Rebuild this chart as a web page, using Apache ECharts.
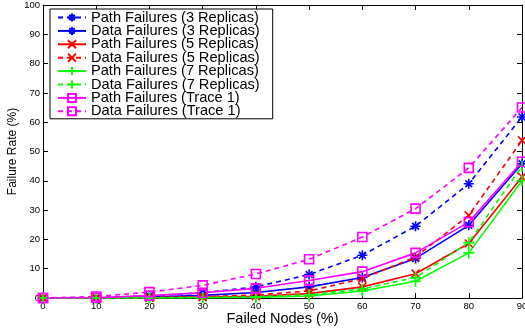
<!DOCTYPE html>
<html>
<head>
<meta charset="utf-8">
<script src="https://cdn.jsdelivr.net/npm/echarts@6/dist/echarts.min.js"></script>
<style>
  html, body { margin: 0; padding: 0; background: #fff; }
  #chart { width: 525px; height: 332px; }
</style>
</head>
<body>
<div id="chart"></div>
<script>
// Failed nodes (%) on the x axis
const failedNodes = [0, 10, 20, 30, 40, 50, 60, 70, 80, 90];

// Failure rates (%) per configuration
const pathRep3  = [0, 0.1, 0.7, 1.8, 3.8, 8.0, 14.6, 24.5, 39.0, 61.8];
const dataRep3  = [0, 0.05, 0.3, 0.9, 1.9, 3.8, 7.0, 13.5, 24.8, 45.8];
const pathRep5  = [0, 0, 0.1, 0.3, 0.6, 1.5, 3.8, 8.3, 18.6, 41.3];
const dataRep5  = [0, 0.02, 0.2, 0.5, 1.0, 2.4, 6.6, 14.0, 28.2, 53.8];
const pathRep7  = [0, 0, 0, 0.1, 0.2, 0.7, 2.4, 5.7, 15.4, 40.0];
const dataRep7  = [0, 0, 0.05, 0.2, 0.4, 1.1, 3.1, 7.0, 18.9, 45.0];
const pathTrace = [0, 0.1, 0.8, 1.8, 3.3, 6.0, 9.0, 15.4, 25.9, 46.5];
const dataTrace = [0, 0.5, 2.0, 4.3, 8.2, 13.2, 20.8, 30.5, 44.4, 65.0];

const seriesNames = [
  'Path Failures (3 Replicas)',
  'Data Failures (3 Replicas)',
  'Path Failures (5 Replicas)',
  'Data Failures (5 Replicas)',
  'Path Failures (7 Replicas)',
  'Data Failures (7 Replicas)',
  'Path Failures (Trace 1)',
  'Data Failures (Trace 1)'
];
const seriesValues = [pathRep3, dataRep3, pathRep5, dataRep5, pathRep7, dataRep7, pathTrace, dataTrace];

// Stroked marker shapes
const STAR   = 'path://M5,0L5,10M0,5L10,5M1.6,1.6L8.4,8.4M8.4,1.6L1.6,8.4';
const CROSS  = 'path://M0,0L10,10M10,0L0,10';
const PLUS   = 'path://M5,0L5,10M0,5L10,5';
const SQUARE = 'path://M0,0L10,0L10,10L0,10Z';

const styles = [
  { color: '#0000ff', dash: true,  symbol: STAR,   size: 10 },
  { color: '#0000ff', dash: false, symbol: STAR,   size: 10 },
  { color: '#ff0000', dash: false, symbol: CROSS,  size: 8 },
  { color: '#ff0000', dash: true,  symbol: CROSS,  size: 8 },
  { color: '#00ff00', dash: false, symbol: PLUS,   size: 11 },
  { color: '#00ff00', dash: true,  symbol: PLUS,   size: 11 },
  { color: '#ff00ff', dash: false, symbol: SQUARE, size: 9 },
  { color: '#ff00ff', dash: true,  symbol: SQUARE, size: 9 }
];

const FONT = "'Liberation Sans', Arial, Helvetica, sans-serif";

const series = seriesNames.map((name, i) => {
  const s = styles[i];
  return {
    name: name,
    type: 'line',
    data: failedNodes.map((x, j) => [x, seriesValues[i][j]]),
    symbol: s.symbol,
    symbolSize: s.size,
    showAllSymbol: true,
    color: s.color,
    lineStyle: { color: s.color, width: 1.6, type: s.dash ? [5, 4] : 'solid' },
    itemStyle: { color: 'rgba(0,0,0,0)', borderColor: s.color, borderWidth: 1.6 },
    emphasis: { disabled: true },
    animation: false
  };
});

const tickStyle = { show: true, inside: true, length: 5, lineStyle: { color: '#000', width: 1 } };
const lineStyleAxis = { show: true, onZero: false, lineStyle: { color: '#000', width: 1 } };

const chart = echarts.init(document.getElementById('chart'));
chart.setOption({
  animation: false,
  backgroundColor: '#fff',
  textStyle: { fontFamily: FONT },
  grid: { left: 43, right: 3, top: 5, bottom: 34, containLabel: false, outerBoundsMode: 'none' },
  legend: {
    data: seriesNames,
    orient: 'vertical',
    left: 50,
    top: 9,
    padding: [1, 13, 0, 7],
    itemWidth: 28,
    itemHeight: 10,
    itemGap: -1.6,
    borderColor: '#000',
    borderWidth: 1,
    backgroundColor: '#fff',
    selectedMode: false,
    textStyle: { fontFamily: FONT, fontSize: 14.6, color: '#000', lineHeight: 13.4 }
  },
  xAxis: [
    {
      type: 'value', min: 0, max: 90, interval: 10, position: 'bottom',
      axisLine: lineStyleAxis, axisTick: tickStyle, splitLine: { show: false },
      axisLabel: { fontFamily: FONT, fontSize: 9.5, color: '#000', margin: 3 },
      name: 'Failed Nodes (%)', nameLocation: 'middle', nameGap: 13, nameMoveOverlap: false,
      nameTextStyle: { fontFamily: FONT, fontSize: 14.5, color: '#000' }
    },
    {
      type: 'value', min: 0, max: 90, interval: 10, position: 'top',
      axisLine: lineStyleAxis, axisTick: tickStyle, splitLine: { show: false },
      axisLabel: { show: false }
    }
  ],
  yAxis: [
    {
      type: 'value', min: 0, max: 100, interval: 10, position: 'left',
      axisLine: lineStyleAxis, axisTick: tickStyle, splitLine: { show: false },
      axisLabel: { fontFamily: FONT, fontSize: 9.5, color: '#000', margin: 3 },
      name: 'Failure Rate (%)', nameLocation: 'middle', nameGap: 24, nameMoveOverlap: false,
      nameTextStyle: { fontFamily: FONT, fontSize: 12, color: '#000' }
    },
    {
      type: 'value', min: 0, max: 100, interval: 10, position: 'right',
      axisLine: lineStyleAxis, axisTick: tickStyle, splitLine: { show: false },
      axisLabel: { show: false }
    }
  ],
  series: series
});
</script>
</body>
</html>
